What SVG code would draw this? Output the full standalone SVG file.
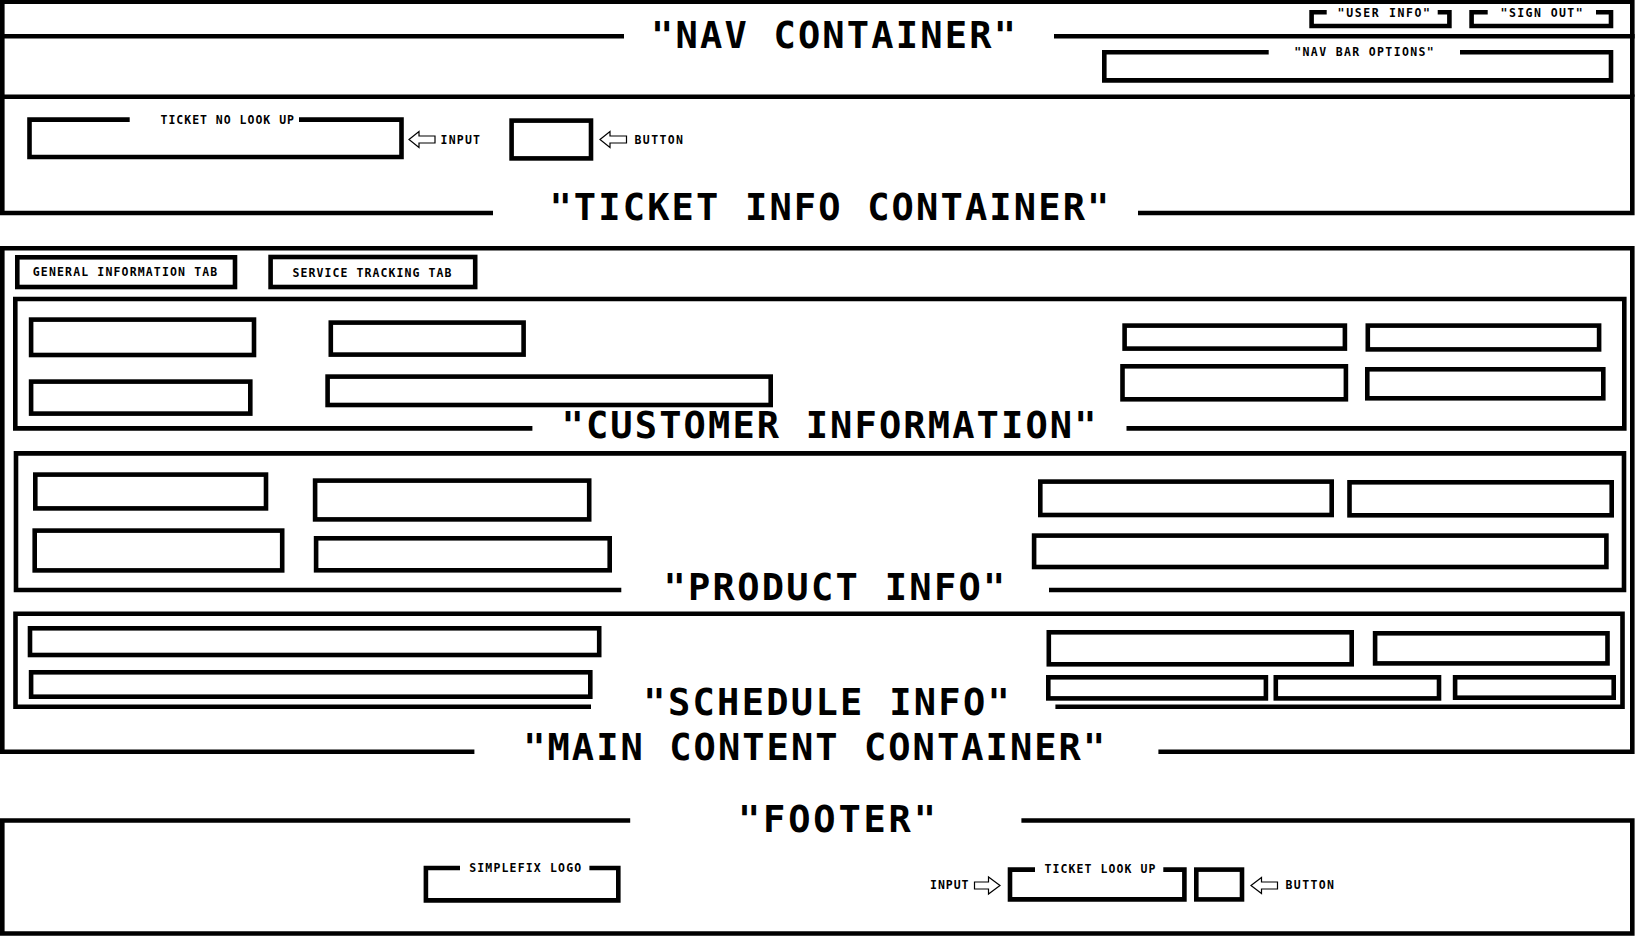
<svg xmlns="http://www.w3.org/2000/svg" width="1639" height="936" viewBox="0 0 1639 936">
<style>
.b{fill:none;stroke:#000;stroke-width:4.6;stroke-linecap:butt;stroke-linejoin:miter}
.t{font-family:"DejaVu Sans Mono","Liberation Mono",monospace;font-weight:bold;font-size:37px;fill:#000}
.s{font-family:"DejaVu Sans Mono","Liberation Mono",monospace;font-weight:bold;font-size:11.5px;fill:#000}
.ar{fill:#fff;stroke:#000;stroke-width:1.2;stroke-linejoin:miter}
</style>
<rect width="1639" height="936" fill="#fff"/>

<g id="nav-container">
<path class="b" d="M0,1.8 H1634.6 M2.3,0 V96.7 M1632.3,0 V96.7"/>
<path class="b" d="M0,36.2 H624 M1054,36.2 H1634.6"/>
<text class="t" x="651" y="48" textLength="365">"NAV CONTAINER"</text>
</g>
<g id="user-info">
<path class="b" d="M1326.7,12.3 H1311.6 V26 H1449.4 V12.3 H1437.7"/>
<text class="s" x="1337.6" y="16.8" textLength="92.4">"USER INFO"</text>
</g>
<g id="sign-out">
<path class="b" d="M1487.7,12.3 H1471.6 V26 H1611 V12.3 H1596"/>
<text class="s" x="1500.6" y="16.8" textLength="82">"SIGN OUT"</text>
</g>
<g id="nav-bar-options">
<path class="b" d="M1268.7,52.3 H1104.3 V80.4 H1611 V52.3 H1460"/>
<text class="s" x="1294.3" y="56" textLength="139.4">"NAV BAR OPTIONS"</text>
</g>

<g id="ticket-info-container">
<path class="b" d="M493,213 H2.3 V96.7 H1632.3 V213 H1138"/>
<text class="t" x="549.4" y="220" textLength="560">"TICKET INFO CONTAINER"</text>
</g>
<g id="ticket-no-lookup">
<path class="b" d="M129.7,119.6 H29.5 V157 H401.5 V119.6 H299"/>
<text class="s" x="160.5" y="124" textLength="133.5">TICKET NO LOOK UP</text>
</g>
<g id="ticket-input-label">
<text class="s" x="440.5" y="143.5" textLength="39.5">INPUT</text>
</g>
<g id="ticket-button">
<rect class="b" x="511.6" y="120.6" width="79.4" height="37.8"/>
</g>
<g id="ticket-button-label">
<text class="s" x="634.5" y="143.5" textLength="48.5">BUTTON</text>
</g>

<g id="main-content-container">
<path class="b" d="M474.4,751.8 H2.3 V248.3 H1632.3 V751.8 H1158.4"/>
<text class="t" x="523.2" y="760" textLength="582">"MAIN CONTENT CONTAINER"</text>
</g>
<g id="general-info-tab">
<rect class="b" x="17.3" y="257.3" width="217.7" height="29.7"/>
<text class="s" x="32.8" y="275.5" textLength="184.5">GENERAL INFORMATION TAB</text>
</g>
<g id="service-tracking-tab">
<rect class="b" x="270.6" y="257" width="204.6" height="30"/>
<text class="s" x="292.5" y="276.5" textLength="159">SERVICE TRACKING TAB</text>
</g>

<g id="customer-information">
<path class="b" d="M532.4,428.4 H15.3 V299 H1624.3 V428.4 H1126.5"/>
<text class="t" x="561.5" y="438" textLength="535">"CUSTOMER INFORMATION"</text>
<rect class="b" x="31.1" y="319.6" width="222.9" height="35.4"/>
<rect class="b" x="330.8" y="322.6" width="192.8" height="32"/>
<rect class="b" x="31.1" y="381.6" width="219.2" height="32"/>
<rect class="b" x="327.6" y="376.6" width="443.1" height="28.4"/>
<rect class="b" x="1124.6" y="325.6" width="220.3" height="23"/>
<rect class="b" x="1367.8" y="325.6" width="231.3" height="23.8"/>
<rect class="b" x="1122.5" y="366.3" width="223.4" height="33"/>
<rect class="b" x="1367.3" y="369.3" width="236" height="29"/>
</g>

<g id="product-info">
<path class="b" d="M621.3,590 H16 V453.4 H1624 V590 H1049"/>
<text class="t" x="663.4" y="600" textLength="342">"PRODUCT INFO"</text>
<rect class="b" x="35.3" y="474.6" width="230.7" height="33.8"/>
<rect class="b" x="315.1" y="480.6" width="274.1" height="38.8"/>
<rect class="b" x="34.7" y="530.6" width="247.5" height="39.8"/>
<rect class="b" x="316.1" y="538.3" width="293.6" height="32"/>
<rect class="b" x="1040.3" y="481.6" width="291.4" height="33.4"/>
<rect class="b" x="1349.5" y="482.3" width="262.2" height="33"/>
<rect class="b" x="1034.1" y="535.6" width="572.3" height="31.4"/>
</g>

<g id="schedule-info">
<path class="b" d="M591,706.7 H15.5 V613.7 H1622.5 V706.7 H1055.4"/>
<text class="t" x="643.3" y="715" textLength="366.5">"SCHEDULE INFO"</text>
<rect class="b" x="30" y="628.3" width="569.2" height="26.7"/>
<rect class="b" x="31.1" y="672.3" width="559.2" height="24.4"/>
<rect class="b" x="1048.8" y="632.3" width="302.9" height="32"/>
<rect class="b" x="1375.1" y="633.3" width="232.4" height="30.1"/>
<rect class="b" x="1048.3" y="677.3" width="217.6" height="21.1"/>
<rect class="b" x="1275.8" y="677.3" width="163.2" height="21.1"/>
<rect class="b" x="1455.1" y="677.3" width="158.6" height="20.4"/>
</g>

<g id="footer">
<path class="b" d="M630.2,820.5 H2.3 V933.5 H1632.3 V820.5 H1021.4"/>
<text class="t" x="738" y="831.5" textLength="198">"FOOTER"</text>
</g>
<g id="simplefix-logo">
<path class="b" d="M460,868 H425.9 V900.4 H618.3 V868 H589.4"/>
<text class="s" x="469.2" y="872" textLength="112">SIMPLEFIX LOGO</text>
</g>
<g id="footer-input-label">
<text class="s" x="930" y="889" textLength="38.5">INPUT</text>
</g>
<g id="footer-ticket-lookup">
<path class="b" d="M1035,869.6 H1010 V899.4 H1184.4 V869.6 H1163.3"/>
<text class="s" x="1044.5" y="872.8" textLength="111">TICKET LOOK UP</text>
</g>
<g id="footer-button">
<rect class="b" x="1196.3" y="869.6" width="45.7" height="29.8"/>
</g>
<g id="footer-button-label">
<text class="s" x="1285.5" y="889" textLength="48.5">BUTTON</text>
</g>

<g id="connectors">
<polygon class="ar" points="409,139.5 419,131.5 419,136 435,136 435,143 419,143 419,147.5"/>
<polygon class="ar" points="600,139.5 610,131.5 610,136 626.5,136 626.5,143 610,143 610,147.5"/>
<polygon class="ar" points="1000,885.5 988.5,877 988.5,882 974.5,882 974.5,889 988.5,889 988.5,894"/>
<polygon class="ar" points="1251,885.5 1261.5,877.5 1261.5,882 1277.5,882 1277.5,889 1261.5,889 1261.5,893.5"/>
</g>
</svg>
